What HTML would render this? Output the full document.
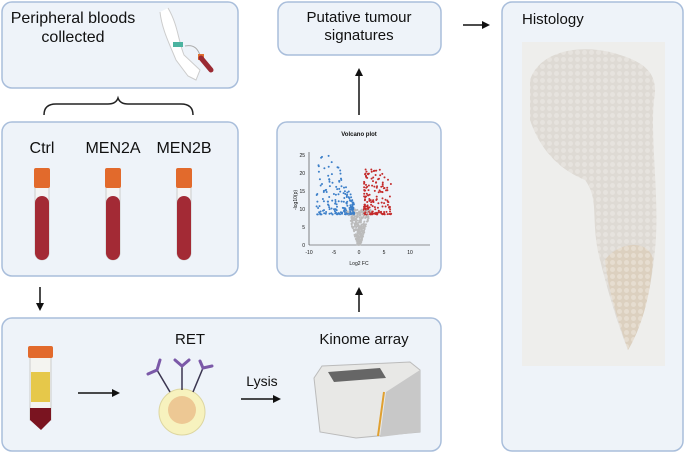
<!DOCTYPE html>
<html><head><meta charset="utf-8"><style>
html,body{margin:0;padding:0;background:#fff;width:685px;height:454px;overflow:hidden}
svg{display:block}
text{font-family:"Liberation Sans",sans-serif;fill:#111}
</style></head><body>
<svg width="685" height="454" viewBox="0 0 685 454" xmlns="http://www.w3.org/2000/svg">
<defs>
<marker id="ah" markerWidth="8" markerHeight="8" refX="6" refY="4" orient="auto" markerUnits="userSpaceOnUse">
<path d="M0,0 L8,4 L0,8 z" fill="#111"/></marker>
<pattern id="tis" width="7" height="7" patternUnits="userSpaceOnUse">
<rect width="7" height="7" fill="#dedad4"/><circle cx="3.5" cy="3.5" r="2.5" fill="#e6e3de"/></pattern>
<pattern id="tis2" width="7" height="7" patternUnits="userSpaceOnUse">
<rect width="7" height="7" fill="#dcd0bf"/><circle cx="3.5" cy="3.5" r="2.5" fill="#e6ddd0"/></pattern>
</defs>
<g fill="#eef3f9" stroke="#a9bedb" stroke-width="1.5">
<rect x="2" y="2" width="236" height="86" rx="10"/>
<rect x="2" y="122" width="236" height="154" rx="10"/>
<rect x="2" y="318" width="439" height="133" rx="10"/>
<rect x="277" y="122" width="164" height="154" rx="10"/>
<rect x="278" y="2" width="163" height="53" rx="10"/>
<rect x="502" y="2" width="181" height="449" rx="10"/>
</g>
<text x="73" y="23" font-size="16" text-anchor="middle">Peripheral bloods</text>
<text x="73" y="42" font-size="16" text-anchor="middle">collected</text>
<path d="M168,8 C178,25 178,40 184,55 L200,70 L196,80 L188,76 L176,60 C170,45 162,30 160,12" fill="#fff" stroke="#ccc"/>
<rect x="173" y="42" width="10" height="5" fill="#4bb3a0"/>
<path d="M185,46 C195,44 198,50 200,55" fill="none" stroke="#aaa"/>
<rect x="198" y="54" width="6" height="6" fill="#e07030"/>
<path d="M201,58 L211,70" stroke="#9b2a33" stroke-width="5" stroke-linecap="round"/>
<path d="M44,115 Q44,104 56,104 L108,104 Q116,104 118,98 Q120,104 128,104 L181,104 Q193,104 193,115" fill="none" stroke="#222" stroke-width="1.5"/>
<text x="42" y="153" font-size="16" text-anchor="middle">Ctrl</text>
<text x="113" y="153" font-size="16" text-anchor="middle">MEN2A</text>
<text x="184" y="153" font-size="16" text-anchor="middle">MEN2B</text>
<g>
<g transform="translate(42,0)">
<rect x="-7" y="180" width="14" height="80" rx="7" fill="#f4f4f4" stroke="#ccc"/>
<rect x="-7" y="196" width="14" height="64" rx="7" fill="#a32a35"/>
<rect x="-8" y="168" width="16" height="20" rx="2" fill="#e26a2c"/>
</g>
<g transform="translate(113,0)">
<rect x="-7" y="180" width="14" height="80" rx="7" fill="#f4f4f4" stroke="#ccc"/>
<rect x="-7" y="196" width="14" height="64" rx="7" fill="#a32a35"/>
<rect x="-8" y="168" width="16" height="20" rx="2" fill="#e26a2c"/>
</g>
<g transform="translate(184,0)">
<rect x="-7" y="180" width="14" height="80" rx="7" fill="#f4f4f4" stroke="#ccc"/>
<rect x="-7" y="196" width="14" height="64" rx="7" fill="#a32a35"/>
<rect x="-8" y="168" width="16" height="20" rx="2" fill="#e26a2c"/>
</g>
</g>
<g stroke="#111" stroke-width="1.5" marker-end="url(#ah)">
<line x1="40" y1="287" x2="40" y2="309"/>
<line x1="359" y1="312" x2="359" y2="289"/>
<line x1="359" y1="115" x2="359" y2="70"/>
<line x1="463" y1="25" x2="488" y2="25"/>
<line x1="78" y1="393" x2="118" y2="393"/>
<line x1="241" y1="399" x2="279" y2="399"/>
</g>
<text x="359" y="22" font-size="15" text-anchor="middle">Putative tumour</text>
<text x="359" y="40" font-size="15" text-anchor="middle">signatures</text>
<text x="359" y="136" font-size="6" font-weight="bold" text-anchor="middle">Volcano plot</text>
<g stroke="#333" stroke-width="0.6" fill="none">
<line x1="309" y1="152" x2="309" y2="245"/><line x1="309" y1="245" x2="430" y2="245"/>
</g>
<g font-size="5" fill="#333">
<text x="305" y="247" text-anchor="end">0</text><text x="305" y="229" text-anchor="end">5</text>
<text x="305" y="211" text-anchor="end">10</text><text x="305" y="193" text-anchor="end">15</text>
<text x="305" y="175" text-anchor="end">20</text><text x="305" y="157" text-anchor="end">25</text>
<text x="309" y="254" text-anchor="middle">-10</text><text x="334" y="254" text-anchor="middle">-5</text>
<text x="359" y="254" text-anchor="middle">0</text><text x="384" y="254" text-anchor="middle">5</text>
<text x="410" y="254" text-anchor="middle">10</text>
<text x="359" y="265" text-anchor="middle">Log2 FC</text>
<text transform="translate(297,200) rotate(-90)" text-anchor="middle">-log10(p)</text>
</g>
<g id="dots"></g>
<rect x="30" y="356" width="21" height="64" fill="#f4f4f0" stroke="#ccc"/>
<rect x="31" y="372" width="19" height="30" fill="#e6c84a"/>
<path d="M30,408 L51,408 L51,420 L41,430 L30,420z" fill="#7a1420"/>
<rect x="28" y="346" width="25" height="12" rx="2" fill="#e26a2c"/>
<text x="190" y="344" font-size="15" text-anchor="middle">RET</text>
<circle cx="182" cy="412" r="23" fill="#f7f2be" stroke="#ddd6a0"/>
<circle cx="182" cy="410" r="14" fill="#edc894"/>
<g stroke="#3a3550" stroke-width="1.5"><line x1="170" y1="392" x2="157" y2="370"/><line x1="182" y1="390" x2="182" y2="364"/><line x1="193" y1="392" x2="203" y2="368"/></g>
<g stroke="#7b59a8" stroke-width="3" fill="none" stroke-linecap="round">
<path d="M148,374 L157,370 L160,360"/><path d="M175,360 L182,366 L189,360"/><path d="M200,361 L203,368 L212,366"/></g>
<text x="262" y="386" font-size="14" text-anchor="middle">Lysis</text>
<text x="364" y="344" font-size="15" text-anchor="middle">Kinome array</text>
<path d="M314,378 L322,366 L410,362 L420,370 L420,432 L356,438 L320,432z" fill="#e8e8e6" stroke="#bbb"/>
<path d="M386,392 L420,370 L420,432 L380,437z" fill="#c8c8c8"/>
<line x1="384" y1="392" x2="378" y2="436" stroke="#e0a030" stroke-width="2"/>
<path d="M328,372 L380,368 L386,378 L334,382z" fill="#666"/>
<text x="522" y="24" font-size="15">Histology</text>
<rect x="522" y="42" width="143" height="324" fill="#eeeeec"/>
<path d="M530,80 C540,50 580,45 610,52 C640,60 660,70 654,100 C650,140 660,200 655,250 C650,300 640,330 628,350 C620,330 610,300 600,260 C590,220 600,200 585,180 C560,170 540,150 530,120z" fill="url(#tis)"/>
<path d="M605,260 C620,240 650,240 653,260 C650,300 640,330 628,350 C618,320 608,290 605,260z" fill="url(#tis2)"/>
</svg>
<script>
var g=document.getElementById('dots'),s=7,h='';
function r(){s=(s*9301+49297)%233280;return s/233280;}
for(var i=0;i<700;i++){var x,y,c;var t=r();
if(t<0.45){y=Math.pow(r(),0.8)*10;x=(r()*2-1)*(0.3+y*0.22);c='#bbb';}
else if(t<0.72){x=-1-Math.pow(r(),1.6)*7.5;y=8.5+Math.pow(r(),1.8)*17*(Math.min(1,-x/5));c='#3c7fc9';}
else{x=1+Math.pow(r(),1.8)*5.5;y=8.5+Math.pow(r(),2)*13;c='#c42b2b';}
var px=359+x*5,py=245-y*3.6;
h+='<circle cx="'+px.toFixed(1)+'" cy="'+py.toFixed(1)+'" r="1" fill="'+c+'"/>';}
g.innerHTML=h;
</script>
</body></html>
